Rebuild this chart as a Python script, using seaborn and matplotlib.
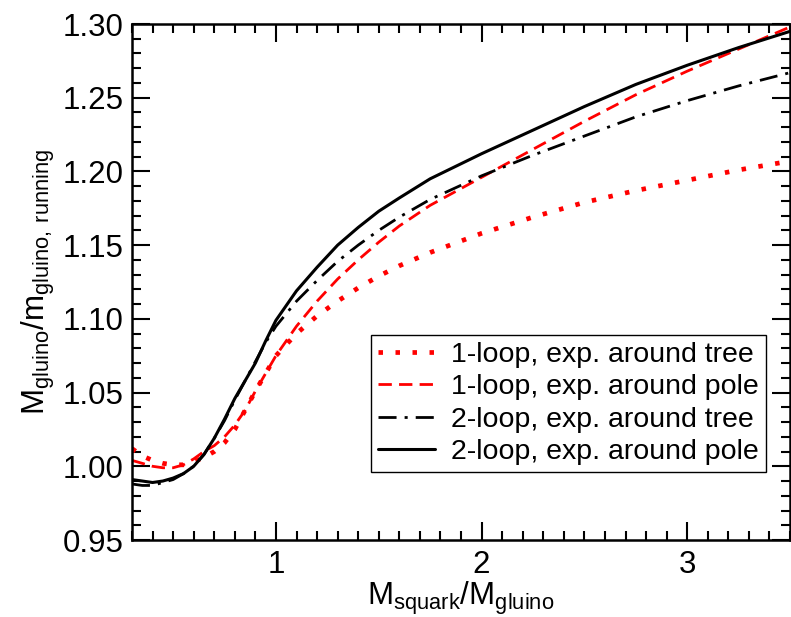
import matplotlib
matplotlib.use("Agg")
import matplotlib.pyplot as plt
import seaborn as sns
import pandas as pd
from matplotlib.ticker import MultipleLocator, FormatStrFormatter

# mass ratio grid
ratio = [0.3, 0.35, 0.4, 0.45, 0.5, 0.55, 0.6, 0.65, 0.7, 0.75, 0.8, 0.85, 0.9, 0.95,
         1.0, 1.1, 1.2, 1.3, 1.4, 1.5, 1.6, 1.75, 2.0, 2.25, 2.5, 2.75, 3.0, 3.25, 3.5]

one_loop_tree = [1.012, 1.007, 1.004, 1.002, 1.001, 1.001, 1.003, 1.006, 1.010, 1.016, 1.025, 1.038, 1.051, 1.063,
                 1.075, 1.090, 1.102, 1.112, 1.121, 1.129, 1.136, 1.145, 1.158, 1.169, 1.179, 1.187, 1.194, 1.201, 1.207]
one_loop_pole = [1.004, 1.002, 1.000, 0.999, 0.999, 1.001, 1.005, 1.010, 1.014, 1.020, 1.028, 1.038, 1.051, 1.063,
                 1.075, 1.095, 1.112, 1.127, 1.140, 1.152, 1.163, 1.177, 1.196, 1.215, 1.234, 1.252, 1.268, 1.283, 1.298]
two_loop_tree = [0.988, 0.987, 0.987, 0.989, 0.991, 0.995, 1.000, 1.008, 1.019, 1.031, 1.045, 1.058, 1.071, 1.084,
                 1.095, 1.112, 1.126, 1.139, 1.150, 1.160, 1.169, 1.181, 1.197, 1.211, 1.224, 1.237, 1.248, 1.258, 1.267]
two_loop_pole = [0.991, 0.990, 0.989, 0.990, 0.992, 0.995, 1.000, 1.008, 1.019, 1.032, 1.046, 1.058, 1.070, 1.085,
                 1.099, 1.119, 1.135, 1.150, 1.162, 1.173, 1.182, 1.195, 1.212, 1.228, 1.244, 1.259, 1.272, 1.284, 1.295]

labels = ["1-loop, exp. around tree", "1-loop, exp. around pole",
          "2-loop, exp. around tree", "2-loop, exp. around pole"]

sns.set_style("ticks")
plt.rcParams['font.family'] = ['Liberation Sans', 'DejaVu Sans']
plt.rcParams['mathtext.default'] = 'regular'
plt.rcParams['text.color'] = 'black'
plt.rcParams['axes.labelcolor'] = 'black'
plt.rcParams['xtick.color'] = 'black'
plt.rcParams['ytick.color'] = 'black'
plt.rcParams['axes.edgecolor'] = 'black'

fig = plt.figure(figsize=(7.91, 6.17), dpi=100)
ax = fig.add_subplot()
fig.subplots_adjust(left=132/791, right=790/791, top=1-24/617, bottom=1-540/617)

styles = [
    dict(color="red", lw=3.4, dashes=(0.95, 2.65), dash_capstyle="butt"),
    dict(color="red", lw=2.0, dashes=(4.8, 2.6)),
    dict(color="black", lw=2.0, dashes=(6.5, 2.9, 1.1, 2.9)),
    dict(color="black", lw=2.2),
]
series = [one_loop_tree, one_loop_pole, two_loop_tree, two_loop_pole]
for vals, lab, st in zip(series, labels, styles):
    df = pd.DataFrame({"x": ratio, "y": vals})
    st = dict(st)
    d = st.pop("dashes", None)
    sns.lineplot(data=df, x="x", y="y", ax=ax, label=lab, **st)
    if d is not None:
        ax.lines[-1].set_dashes(d)

ax.set_xlim(0.3, 3.5)
ax.set_ylim(0.95, 1.30)
ax.xaxis.set_major_locator(MultipleLocator(1))
ax.xaxis.set_minor_locator(MultipleLocator(0.1))
ax.yaxis.set_major_locator(MultipleLocator(0.05))
ax.yaxis.set_minor_locator(MultipleLocator(0.01))
ax.yaxis.set_major_formatter(FormatStrFormatter('%.2f'))
ax.tick_params(which="both", direction="in", top=True, right=True, width=1.5, labelsize=22.5)
ax.tick_params(which="major", length=13)
ax.tick_params(which="minor", length=6.5)
ax.tick_params(axis="y", which="major", pad=6)
ax.tick_params(axis="x", which="major", pad=7)
for s in ax.spines.values():
    s.set_linewidth(1.8)

ax.set_xlabel("$M_{squark}/M_{gluino}$", fontsize=22.5, labelpad=0)
ax.set_ylabel("$M_{gluino}/m_{gluino,\\,running}$", fontsize=22.5, labelpad=4)

leg = ax.legend(loc="lower right", bbox_to_anchor=(0.963, 0.132), fontsize=20.5, frameon=True,
                fancybox=False, edgecolor="black", framealpha=1, handlelength=2.0,
                labelspacing=0.22, borderpad=0.25, handletextpad=0.55, borderaxespad=0)
leg.get_frame().set_linewidth(1.0)

plt.savefig("out.png", dpi=100)
